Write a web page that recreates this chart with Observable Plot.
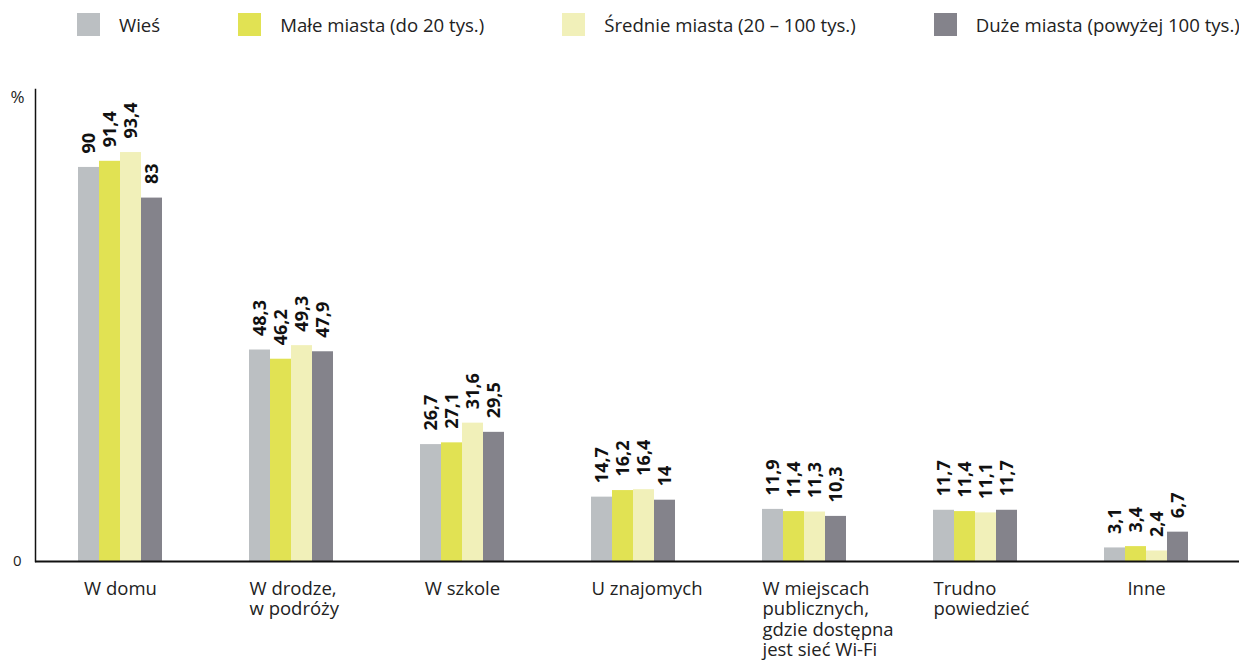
<!DOCTYPE html>
<html><head><meta charset="utf-8">
<script src="https://cdn.jsdelivr.net/npm/d3@7"></script>
<script src="https://cdn.jsdelivr.net/npm/@observablehq/plot@0.6"></script>
<style>
body{margin:0;background:#fff;font-family:"Open Sans",sans-serif;}
#legend{height:48px;display:flex;align-items:center;padding-left:77px;gap:78px;font-size:18.6px;color:#222;white-space:nowrap}
.item{display:flex;align-items:center}
.sw{width:23px;height:23px;margin-right:19px}
</style></head><body>
<div id="legend"></div><div id="chart"></div>
<script>
const categories = ["W domu","W drodze,\nw podróży","W szkole","U znajomych","W miejscach\npublicznych,\ngdzie dostępna\njest sieć Wi-Fi","Trudno\npowiedzieć","Inne"];
const series = ["Wieś","Małe miasta (do 20 tys.)","Średnie miasta (20 – 100 tys.)","Duże miasta (powyżej 100 tys.)"];
const colors = ["#bbbfc2","#e1e253","#f1f0b9","#84838b"];
const wies    = [90, 48.3, 26.7, 14.7, 11.9, 11.7, 3.1];
const male    = [91.4, 46.2, 27.1, 16.2, 11.4, 11.4, 3.4];
const srednie = [93.4, 49.3, 31.6, 16.4, 11.3, 11.1, 2.4];
const duze    = [83, 47.9, 29.5, 14, 10.3, 11.7, 6.7];
const yTicks = [0];
const yUnit = "%";

const valuesBySeries = [wies, male, srednie, duze];
const fmt = v => String(v).replace(".", ",");

// legend
const legend = document.getElementById("legend");
series.forEach((s, i) => {
  const it = document.createElement("div"); it.className = "item";
  const sw = document.createElement("div"); sw.className = "sw"; sw.style.background = colors[i];
  const t = document.createElement("span"); t.textContent = s;
  it.append(sw, t); legend.append(it);
});

const barW = 21;
const marks = [];
valuesBySeries.forEach((vals, i) => {
  const data = categories.map((c, j) => ({category: c, value: vals[j]}));
  marks.push(Plot.barY(data, {x: "category", y: "value", fill: colors[i], insetLeft: i * barW, insetRight: (3 - i) * barW}));
  marks.push(Plot.text(data, {x: "category", y: "value", text: d => fmt(d.value), rotate: -90, textAnchor: "start",
    dx: (i - 1.5) * barW, dy: -14, fontWeight: 700, fontSize: 18, fill: "#111"}));
});
const longest = c => Math.max(...c.split("\n").map(l => l.length));
const centered = categories.filter(c => !c.includes("\n") && longest(c) <= 8);
const leftAligned = categories.filter(c => !centered.includes(c));
marks.push(Plot.text(centered, {x: d => d, frameAnchor: "bottom", dy: 19, lineAnchor: "top", textAnchor: "middle", fontSize: 18.5, lineHeight: 1.1, fill: "#222"}));
marks.push(Plot.text(leftAligned, {x: d => d, frameAnchor: "bottom", dy: 19, dx: -2 * barW, lineAnchor: "top", textAnchor: "start", fontSize: 18.5, lineHeight: 1.1, fill: "#222"}));
marks.push(Plot.text([yUnit], {frameAnchor: "top-left", dx: -25, dy: 1, lineAnchor: "top", textAnchor: "start", fontSize: 17, fill: "#222"}));
marks.push(Plot.axisY({ticks: yTicks, tickSize: 0, tickPadding: 14, fontSize: 15, label: null, tickFormat: d => String(d)}));
marks.push(Plot.frame({anchor: "left", strokeWidth: 1.5, stroke: "#111"}));
marks.push(Plot.ruleY([0], {strokeWidth: 2, stroke: "#111"}));

const chart = Plot.plot({
  width: 1239, height: 614,
  marginLeft: 35, marginRight: 0, marginTop: 41, marginBottom: 101,
  style: {fontFamily: "Open Sans", fontSize: "18px", color: "#222", background: "#fff"},
  x: {domain: categories, paddingInner: 0.5093, paddingOuter: 0.271, align: 0.4526, axis: null},
  y: {domain: [0, 107.8], axis: null},
  marks
});
document.getElementById("chart").append(chart);
</script>
</body></html>
